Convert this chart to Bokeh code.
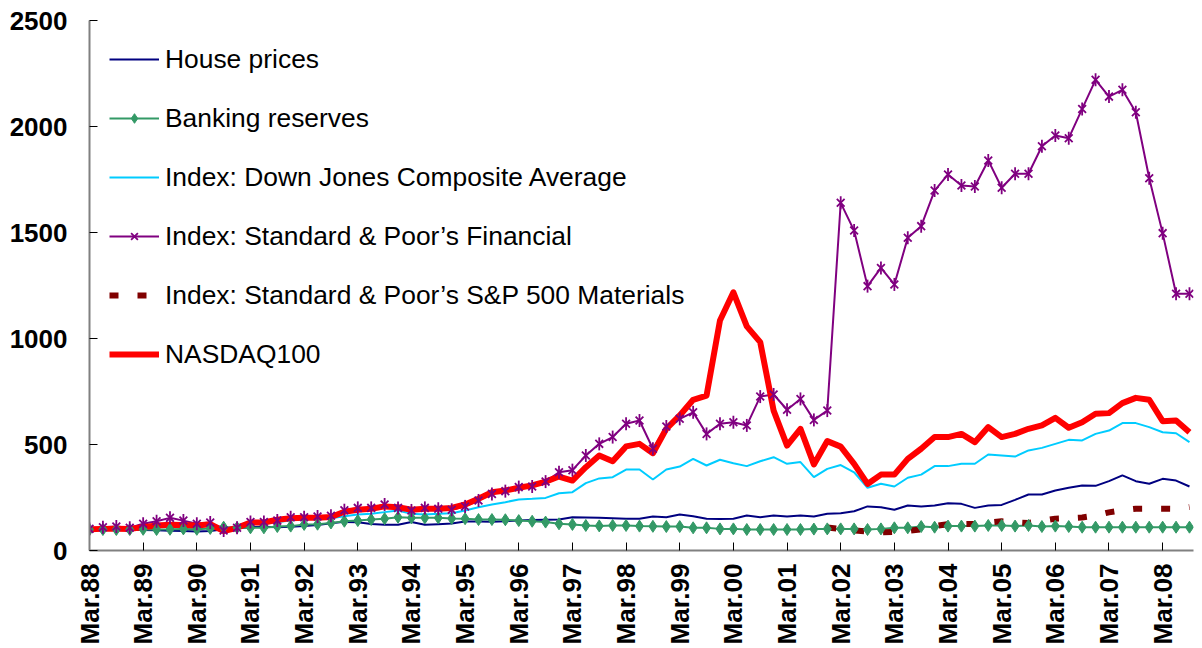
import math
import numpy as np
from bokeh.plotting import figure
from bokeh.models import Range1d, FixedTicker, Legend, LegendItem, ColumnDataSource
from bokeh.embed import file_html
from bokeh.resources import INLINE

# Quarterly observations, Mar.88 ... Sep.08 (83 quarters)
years = list(range(1988, 2009))
months = ["Mar", "Jun", "Sep", "Dec"]
quarters = [f"{m}.{y % 100:02d}" for y in years for m in months][:83]
year_ticks = [f"Mar.{y % 100:02d}" for y in years]

house_prices = [100, 101, 100, 98, 97, 95, 93, 92, 90, 92, 100, 105, 110, 112, 110, 112,
                115, 120, 128, 135, 133, 125, 122, 121, 134, 121, 124, 127, 137, 137, 136, 138,
                141, 144, 145, 146, 157, 156, 154, 152, 150, 150, 160, 157, 170, 162, 150, 148,
                150, 165, 157, 165, 160, 165, 160, 173, 176, 185, 208, 204, 192, 212, 208, 212,
                223, 220, 201, 212, 215, 239, 264, 264, 283, 296, 307, 305, 327, 354, 327, 315,
                338, 330, 302]

banking_reserves = [99, 99, 99, 99, 100, 99, 100, 102, 100, 104, 110, 108, 107, 107, 113, 115,
                    123, 124, 130, 138, 141, 146, 150, 157, 154, 154, 154, 151, 150, 146, 146, 145,
                    141, 138, 134, 126, 123, 118, 116, 118, 118, 115, 114, 113, 113, 107, 107, 102,
                    102, 99, 99, 99, 99, 99, 101, 102, 102, 102, 99, 102, 107, 107, 113, 110,
                    115, 115, 115, 118, 118, 115, 118, 113, 115, 113, 110, 110, 110, 110, 110, 110,
                    110, 110, 110]

dow_jones_composite = [100, 102, 104, 103, 108, 115, 128, 126, 120, 125, 108, 106, 124, 126, 134, 142,
                       148, 150, 152, 162, 170, 173, 181, 189, 173, 170, 173, 176, 189, 204, 217, 228,
                       241, 244, 248, 270, 275, 318, 340, 346, 382, 382, 335, 382, 396, 432, 401, 428,
                       412, 398, 421, 440, 409, 417, 346, 385, 403, 369, 296, 315, 302, 343, 358, 398,
                       398, 409, 409, 453, 448, 443, 472, 484, 503, 522, 519, 550, 566, 601, 601, 582,
                       558, 553, 511]

sp_financial = [102, 110, 113, 107, 126, 138, 154, 141, 126, 132, 94, 107, 134, 134, 141, 157,
                157, 160, 164, 190, 201, 201, 217, 201, 189, 201, 197, 192, 208, 236, 267, 280,
                299, 302, 325, 369, 379, 448, 503, 535, 598, 613, 480, 585, 621, 652, 550, 598,
                605, 590, 726, 736, 664, 715, 616, 660, 1640, 1509, 1247, 1333, 1255, 1475, 1530, 1698,
                1774, 1722, 1717, 1840, 1711, 1777, 1777, 1907, 1958, 1945, 2083, 2220, 2141, 2173, 2067, 1756,
                1497, 1211, 1211]

# S&P 500 Materials: series starts Dec.01
sp_materials = [np.nan] * 55 + [108, 102, 95, 90, 86, 88, 92, 100, 115,
                                124, 125, 126, 132, 138, 133, 130, 140, 150, 152, 156,
                                165, 180, 190, 197, 197, 197, 196, 205]

nasdaq100 = [100, 102, 103, 102, 110, 118, 122, 120, 118, 124, 92, 107, 132, 132, 145, 152,
             155, 155, 158, 183, 192, 197, 208, 204, 192, 197, 197, 201, 217, 244, 275, 283,
             296, 307, 325, 349, 330, 393, 448, 421, 491, 503, 459, 574, 637, 711, 731, 1085,
             1218, 1057, 983, 660, 495, 574, 406, 516, 490, 409, 314, 358, 358, 432, 480, 535,
             535, 550, 511, 582, 535, 550, 574, 590, 626, 579, 605, 645, 648, 695, 720, 711,
             610, 613, 558]

y_ticks = [0, 500, 1000, 1500, 2000, 2500]

x = list(range(len(quarters)))
src = ColumnDataSource(dict(x=x, q=quarters, house=house_prices, bank=banking_reserves,
                            dj=dow_jones_composite, fin=sp_financial, mat=sp_materials,
                            nas=nasdaq100))

p = figure(width=1202, height=648, output_backend="svg", toolbar_location=None,
           x_range=Range1d(0, 82.3), y_range=Range1d(0, 2500),
           min_border_left=89, min_border_right=9, min_border_top=20, min_border_bottom=98)
p.outline_line_color = None
p.xgrid.visible = False
p.ygrid.visible = False

NAVY = "#000080"
GREEN = "#339966"
CYAN = "#00CCFF"
PURPLE = "#800080"
DARKRED = "#800000"
RED = "#FF0000"

r_house = p.line("x", "house", source=src, line_color=NAVY, line_width=2)
r_bank = p.line("x", "bank", source=src, line_color=GREEN, line_width=2)
r_dj = p.line("x", "dj", source=src, line_color=CYAN, line_width=2)
r_fin = p.line("x", "fin", source=src, line_color=PURPLE, line_width=2)
r_mat = p.line("x", "mat", source=src, line_color=DARKRED, line_width=6, line_dash="9 19")
r_nas = p.line("x", "nas", source=src, line_color=RED, line_width=6, line_join="round")

r_bank_m = p.scatter("x", "bank", source=src, marker="diamond", size=12,
                     fill_color=GREEN, line_color=GREEN)
r_fin_x = p.scatter("x", "fin", source=src, marker="x", size=11, line_color=PURPLE, line_width=1.8)
r_fin_d = p.scatter("x", "fin", source=src, marker="dash", angle=math.pi / 2, size=13,
                    line_color=PURPLE, line_width=1.8)

legend = Legend(items=[
    LegendItem(label="House prices", renderers=[r_house]),
    LegendItem(label="Banking reserves", renderers=[r_bank, r_bank_m]),
    LegendItem(label="Index: Down Jones Composite Average", renderers=[r_dj]),
    LegendItem(label="Index: Standard & Poor\u2019s Financial", renderers=[r_fin, r_fin_x]),
    LegendItem(label="Index: Standard & Poor\u2019s S&P 500 Materials", renderers=[r_mat]),
    LegendItem(label="NASDAQ100", renderers=[r_nas]),
], location="top_left", margin=20, padding=0, spacing=21, glyph_width=50, glyph_height=24,
   label_height=38, label_standoff=6, label_text_font="Liberation Sans",
   label_text_font_size="26.4px", label_text_color="black",
   border_line_color=None, background_fill_alpha=0)
p.add_layout(legend)

# Y axis
p.yaxis.ticker = FixedTicker(ticks=y_ticks)
p.yaxis.major_tick_in = 8
p.yaxis.major_tick_out = 0
p.yaxis.minor_tick_line_color = None
p.yaxis.axis_line_color = "#808080"
p.yaxis.axis_line_width = 2
p.yaxis.major_tick_line_color = "black"
p.yaxis.major_label_text_font = "Liberation Sans"
p.yaxis.major_label_text_font_style = "bold"
p.yaxis.major_label_text_font_size = "26px"
p.yaxis.major_label_text_color = "black"
p.yaxis.major_label_standoff = 22

# X axis
tick_pos = [quarters.index(t) for t in year_ticks]
p.xaxis.ticker = FixedTicker(ticks=tick_pos)
p.xaxis.major_label_overrides = {i: t for i, t in zip(tick_pos, year_ticks)}
p.xaxis.major_label_orientation = math.pi / 2
p.xaxis.major_tick_in = 8
p.xaxis.major_tick_out = 0
p.xaxis.minor_tick_line_color = None
p.xaxis.axis_line_color = "#808080"
p.xaxis.axis_line_width = 2
p.xaxis.major_tick_line_color = "black"
p.xaxis.major_label_text_font = "Liberation Sans"
p.xaxis.major_label_text_font_style = "bold"
p.xaxis.major_label_text_font_size = "26px"
p.xaxis.major_label_text_color = "black"
p.xaxis.major_label_standoff = 13

open("out.html", "w").write(file_html(p, INLINE))
